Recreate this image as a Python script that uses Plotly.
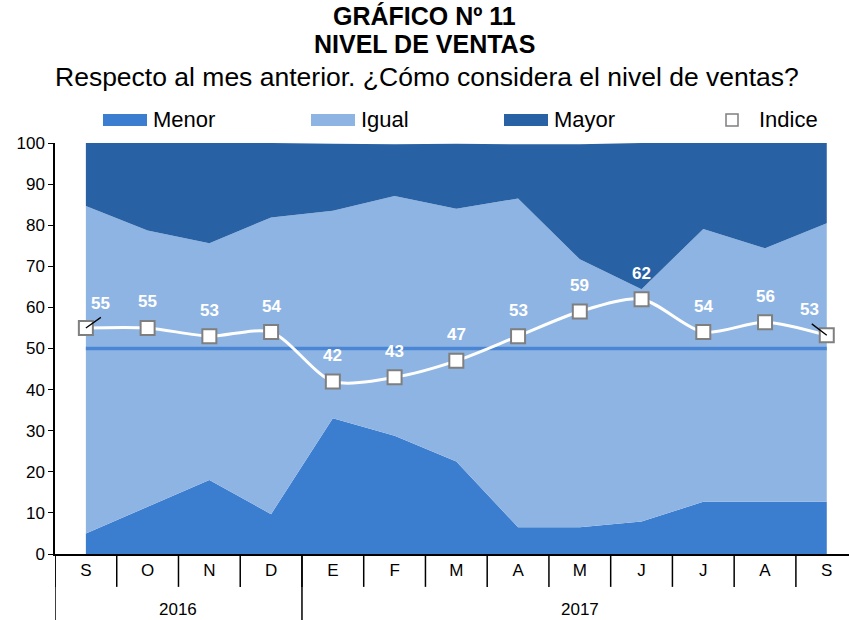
import plotly.graph_objects as go

meses = ['S', 'O', 'N', 'D', 'E', 'F', 'M', 'A', 'M', 'J', 'J', 'A', 'S']
anios = ['2016', '2017']
meses_por_anio = [4, 9]

menor = [5.0, 11.5, 18.0, 9.7, 33.0, 28.8, 22.5, 6.5, 6.5, 7.9, 12.7, 12.7, 12.7]
igual = [79.7, 67.2, 57.6, 72.2, 50.5, 58.3, 61.5, 80.0, 65.2, 56.5, 66.4, 61.7, 67.8]
mayor = [15.3, 21.3, 24.4, 18.1, 16.3, 12.6, 15.8, 13.2, 28.0, 35.6, 20.9, 25.6, 19.5]
indice = [55, 55, 53, 54, 42, 43, 47, 53, 59, 62, 54, 56.4, 53.2]
etiquetas = ['55', '55', '53', '54', '42', '43', '47', '53', '59', '62', '54', '56', '53']
referencia = [50] * len(meses)

series = ['Menor', 'Igual', 'Mayor']
colores = ['#3b7dce', '#8eb4e3', '#2861a4']

FONT = 'Liberation Sans, Arial, sans-serif'
x = list(range(len(meses)))

# plot box in pixels (used to place the hand-drawn legend)
L, R, T, B = 55, 849, 143, 554
def px(v):
    return (v - L) / (R - L)
def py(v):
    return (B - v) / (B - T)

fig = go.Figure()
for nombre, vals, col in zip(series, [menor, igual, mayor], colores):
    fig.add_trace(go.Scatter(x=x, y=vals, name=nombre, stackgroup='a', mode='none',
                             fillcolor=col, line=dict(width=0), showlegend=False))
fig.add_trace(go.Scatter(x=x, y=referencia, mode='lines', showlegend=False,
                         line=dict(color='#4a86d4', width=3.5), hoverinfo='skip'))
fig.add_trace(go.Scatter(x=x, y=indice, mode='lines+markers', showlegend=False, name='Indice',
                         line=dict(color='white', width=3, shape='spline', smoothing=0.8),
                         marker=dict(symbol='square', size=14, color='white',
                                     line=dict(color='#7f7f7f', width=2))))

# data labels (first and last are pulled aside with a small leader line)
ultimo = len(indice) - 1
for i, (v, t) in enumerate(zip(indice, etiquetas)):
    dx, dy = 0, 26
    if i == 0:
        dx, dy = 15, 24
        fig.add_annotation(x=i, y=v, text=' ', showarrow=True, arrowhead=0, arrowwidth=1.3,
                           arrowcolor='black', ax=17, ay=-12, standoff=0,
                           font=dict(family=FONT, size=4))
    elif i == ultimo:
        dx, dy = -17, 26
        fig.add_annotation(x=i, y=v, text=' ', showarrow=True, arrowhead=0, arrowwidth=1.3,
                           arrowcolor='black', ax=-17, ay=-13, standoff=0,
                           font=dict(family=FONT, size=4))
    fig.add_annotation(x=i, y=v, text='<b>%s</b>' % t, showarrow=False, xshift=dx, yshift=dy,
                       font=dict(family=FONT, size=17, color='white'))

# category separators and year labels below the axis
for b in range(len(meses) + 1):
    fig.add_shape(type='line', xref='x', yref='paper', x0=b - 0.5, x1=b - 0.5,
                  y0=0, y1=-0.08, line=dict(color='black', width=1.5))
inicio = 0
for anio, n in zip(anios, meses_por_anio):
    fig.add_shape(type='line', xref='x', yref='paper', x0=inicio - 0.5, x1=inicio - 0.5,
                  y0=0, y1=-0.17, line=dict(color='black', width=1.5))
    fig.add_annotation(x=inicio + (n - 1) / 2, y=-0.135, xref='x', yref='paper', text=anio,
                       showarrow=False, yanchor='middle', font=dict(family=FONT, size=17, color='black'))
    inicio += n

# legend drawn by hand
sw_x = [103, 311, 504]
for nombre, col, x0 in zip(series, colores, sw_x):
    fig.add_shape(type='rect', xref='paper', yref='paper', x0=px(x0), x1=px(x0 + 44),
                  y0=py(126), y1=py(114), fillcolor=col, line=dict(width=0))
    fig.add_annotation(xref='paper', yref='paper', x=px(x0 + 48), y=py(120), text=nombre,
                       showarrow=False, xanchor='left', yanchor='middle',
                       font=dict(family=FONT, size=22, color='black'))
fig.add_shape(type='rect', xref='paper', yref='paper', x0=px(726), x1=px(738),
              y0=py(126), y1=py(114), fillcolor='white', line=dict(color='#7f7f7f', width=1.5))
fig.add_annotation(xref='paper', yref='paper', x=px(757), y=py(120), text='Indice',
                   showarrow=False, xanchor='left', yanchor='middle',
                   font=dict(family=FONT, size=22, color='black'))

# titles
fig.add_annotation(x=px(424), xref='paper', y=py(16), yref='paper', text='<b>GRÁFICO Nº 11</b>',
                   showarrow=False, xanchor='center', yanchor='middle',
                   font=dict(family=FONT, size=25, color='black'))
fig.add_annotation(x=px(424), xref='paper', y=py(44), yref='paper', text='<b>NIVEL DE VENTAS</b>',
                   showarrow=False, xanchor='center', yanchor='middle',
                   font=dict(family=FONT, size=25, color='black'))
fig.add_annotation(x=px(427), xref='paper', y=py(77), yref='paper',
                   text='Respecto al mes anterior. ¿Cómo considera el nivel de ventas?',
                   showarrow=False, xanchor='center', yanchor='middle',
                   font=dict(family=FONT, size=26.5, color='black'))

fig.update_layout(
    width=849, height=620,
    margin=dict(l=L, r=849 - R, t=T, b=620 - B, autoexpand=False),
    paper_bgcolor='white', plot_bgcolor='white',
    font=dict(family=FONT, size=17, color='black'),
    showlegend=False,
    xaxis=dict(range=[-0.5, 12.36], tickmode='array', tickvals=x, ticktext=meses,
               showgrid=False, zeroline=False, showline=True, linecolor='black',
               linewidth=1.5, ticks='', tickfont=dict(family=FONT, size=17)),
    yaxis=dict(range=[0, 100], dtick=10, showgrid=False, zeroline=False, showline=True,
               linecolor='black', linewidth=1.5, ticks='outside', ticklen=5,
               tickcolor='black', tickfont=dict(family=FONT, size=17)),
)

# the page body has a default 8px margin; drop it so the figure sits at the corner
fig.write_html('out.html', config={'displayModeBar': False},
               post_script="document.body.style.margin='0px';")
